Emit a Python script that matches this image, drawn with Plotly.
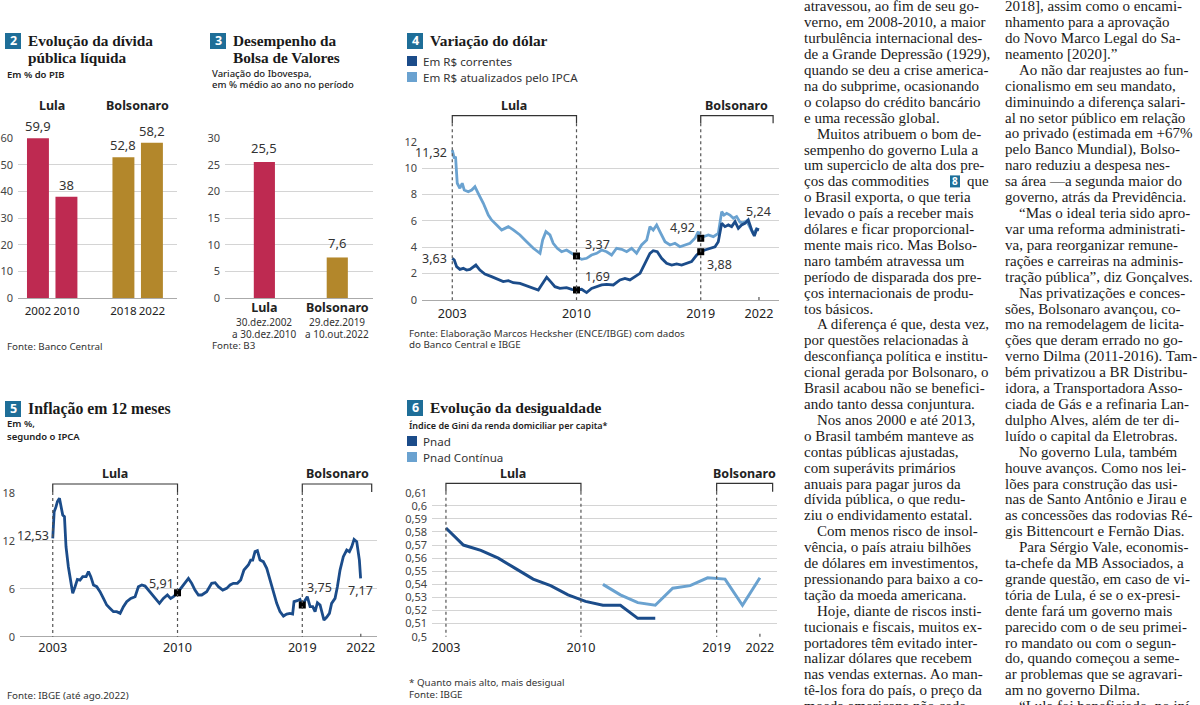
import plotly.graph_objects as go
import numpy as np

W, H = 1200, 705


def PX(x):
    return x / W


def PY(y):
    return 1 - y / H


LULA_COLOR = "#BE2A51"
BOLSO_COLOR = "#B3872B"
DARK_BLUE = "#1B4C8A"
LIGHT_BLUE = "#6AA2D0"
BOX_BLUE = "#1E6E98"
GRID = "#d4d4d4"
SANS = "Noto Sans"
SERIF = "Liberation Serif"
TXT = "#222222"

# ------------------------------------------------------------------ data
debt_years = ["2002", "2010", " ", "2018", "2022"]
debt_values = [59.9, 38.0, None, 52.8, 58.2]
debt_labels = ["59,9", "38", "", "52,8", "58,2"]
debt_govs = ["Lula", "Lula", "", "Bolsonaro", "Bolsonaro"]

bolsa_govs = ["Lula", "Bolsonaro"]
bolsa_values = [25.5, 7.6]
bolsa_labels = ["25,5", "7,6"]
bolsa_start = ["30.dez.2002", "29.dez.2019"]
bolsa_end = ["a 30.dez.2010", "a 10.out.2022"]

dolar_nominal_years = [
    2003.00, 2003.13, 2003.28, 2003.49, 2003.71, 2003.92, 2004.14, 2004.35, 2004.52, 2004.78,
    2005.10, 2005.53, 2005.96, 2006.28, 2006.61, 2006.93, 2007.36, 2007.79, 2008.22, 2008.54,
    2008.75, 2009.08, 2009.33, 2009.61, 2009.93, 2010.36, 2010.69, 2011.00, 2011.33, 2011.65,
    2011.97, 2012.30, 2012.62, 2012.94, 2013.37, 2013.80, 2014.12, 2014.44, 2014.76, 2015.09,
    2015.41, 2015.73, 2015.94, 2016.20, 2016.48, 2016.80, 2017.13, 2017.45, 2017.77, 2018.09,
    2018.41, 2018.74, 2019.00, 2019.27, 2019.60, 2019.92, 2020.13, 2020.35, 2020.56, 2020.78,
    2020.99, 2021.21, 2021.42, 2021.63, 2021.85, 2022.06, 2022.28, 2022.45, 2022.60, 2022.75,
]
dolar_nominal = [
    3.16, 3.03, 2.53, 2.32, 2.40, 2.27, 2.32, 2.48, 2.65, 2.27,
    1.97, 1.77, 1.52, 1.39, 1.47, 1.31, 1.26, 1.06, 0.88, 0.76,
    1.14, 1.72, 1.39, 1.01, 0.88, 0.94, 0.81, 0.76, 0.81, 0.56,
    0.88, 1.01, 1.14, 1.19, 1.14, 1.52, 1.64, 1.52, 1.77, 2.02,
    2.78, 3.54, 3.74, 3.66, 3.16, 2.78, 2.65, 2.73, 2.65, 2.78,
    2.91, 3.41, 3.66, 3.79, 3.92, 4.04, 4.42, 5.81, 5.56, 5.69,
    5.56, 5.94, 5.43, 5.69, 5.81, 6.07, 5.31, 4.85, 5.36, 5.31,
]
dolar_real_years = [
    2003.00, 2003.13, 2003.21, 2003.32, 2003.49, 2003.64, 2003.77, 2004.03, 2004.25, 2004.46,
    2004.67, 2005.00, 2005.32, 2005.53, 2005.86, 2006.18, 2006.39, 2006.61, 2006.93, 2007.36,
    2007.79, 2008.22, 2008.65, 2008.82, 2009.03, 2009.29, 2009.50, 2009.76, 2010.04, 2010.36,
    2010.69, 2011.00, 2011.33, 2011.65, 2011.97, 2012.30, 2012.62, 2012.94, 2013.26, 2013.58,
    2013.91, 2014.23, 2014.55, 2014.87, 2015.19, 2015.52, 2015.73, 2015.94, 2016.16, 2016.37,
    2016.70, 2017.02, 2017.34, 2017.66, 2017.98, 2018.31, 2018.63, 2018.84, 2019.00, 2019.17,
    2019.49, 2019.81, 2020.13, 2020.35, 2020.50, 2020.67, 2020.88, 2021.10, 2021.31, 2021.53,
    2021.74, 2021.96, 2022.17, 2022.39, 2022.60, 2022.75,
]
dolar_real = [
    11.37, 10.74, 10.87, 8.85, 8.47, 8.85, 8.34, 8.21, 8.34, 8.59,
    8.09, 7.33, 6.44, 6.07, 5.69, 5.31, 5.43, 5.56, 5.31, 4.93,
    4.42, 3.92, 3.54, 4.55, 5.18, 4.93, 4.30, 3.92, 3.66, 3.79,
    3.54, 3.34, 3.08, 3.16, 3.41, 3.54, 3.79, 3.66, 3.41, 3.92,
    3.84, 3.66, 3.92, 3.54, 4.17, 4.55, 5.56, 5.31, 5.69, 5.18,
    4.42, 4.17, 4.30, 4.04, 4.17, 4.30, 4.68, 5.18, 4.68, 4.80,
    4.93, 4.80, 5.05, 6.70, 6.44, 6.57, 6.44, 6.19, 6.32, 5.90,
    5.85, 6.00, 5.50, 5.00, 5.40, 5.33,
]
dolar_marked_years = [2011.0, 2019.0]

ipca_years = [
    2003.00, 2003.09, 2003.21, 2003.30, 2003.43, 2003.53, 2003.64, 2003.75, 2003.85, 2004.00,
    2004.15, 2004.28, 2004.43, 2004.58, 2004.75, 2004.92, 2005.14, 2005.29, 2005.44, 2005.61,
    2005.82, 2006.03, 2006.25, 2006.46, 2006.68, 2006.89, 2007.10, 2007.32, 2007.53, 2007.74,
    2008.00, 2008.28, 2008.49, 2008.71, 2008.92, 2009.13, 2009.35, 2009.56, 2009.84, 2010.09,
    2010.35, 2010.56, 2010.74, 2011.00, 2011.27, 2011.55, 2011.70, 2011.91, 2012.12, 2012.34,
    2012.55, 2012.87, 2013.19, 2013.41, 2013.62, 2013.90, 2014.15, 2014.37, 2014.58, 2014.84,
    2015.05, 2015.26, 2015.54, 2015.69, 2015.82, 2015.97, 2016.12, 2016.29, 2016.50, 2016.72,
    2016.93, 2017.15, 2017.36, 2017.57, 2017.79, 2018.00, 2018.21, 2018.38, 2018.47, 2018.68,
    2018.85, 2019.00, 2019.17, 2019.32, 2019.50, 2019.67, 2019.82, 2019.97, 2020.14, 2020.26,
    2020.39, 2020.56, 2020.74, 2020.88, 2021.10, 2021.25, 2021.42, 2021.63, 2021.85, 2022.02,
    2022.17, 2022.32, 2022.49, 2022.66, 2022.74,
]
ipca_values = [
    12.29, 15.60, 16.25, 16.90, 17.30, 16.25, 15.20, 15.00, 11.25, 8.75,
    6.67, 5.42, 6.25, 7.17, 7.08, 7.50, 7.50, 8.13, 7.50, 6.46,
    6.25, 5.63, 4.79, 3.96, 3.54, 3.13, 3.13, 2.92, 3.75, 4.38,
    4.79, 5.00, 6.25, 6.46, 6.33, 5.83, 5.21, 4.79, 4.17, 4.79,
    5.21, 4.79, 5.00, 5.50, 6.25, 6.88, 7.29, 6.67, 5.83, 5.21,
    5.21, 5.63, 6.67, 6.75, 6.25, 5.83, 6.04, 6.46, 6.67, 6.67,
    7.08, 8.33, 8.96, 9.58, 9.58, 10.63, 10.75, 9.58, 9.38, 8.54,
    7.08, 5.63, 4.17, 3.13, 2.58, 2.83, 2.92, 2.83, 4.38, 4.50,
    4.67, 3.96, 4.58, 5.00, 3.75, 3.75, 3.13, 4.25, 3.96, 2.92,
    2.08, 2.42, 2.92, 4.17, 4.79, 6.25, 8.33, 10.00, 10.83, 10.63,
    11.25, 12.17, 11.88, 9.58, 7.29,
]
ipca_marked_years = [2011.0, 2019.0]

gini_pnad_years = list(range(2003, 2016))
gini_pnad = [0.583, 0.570, 0.566, 0.560, 0.552, 0.544, 0.539, 0.532, 0.527, 0.524, 0.524, 0.514, 0.514]
gini_cont_years = list(range(2012, 2022))
gini_cont = [0.540, 0.532, 0.526, 0.524, 0.537, 0.539, 0.545, 0.544, 0.524, 0.545]

col1_lines = [
    "atravessou, ao fim de seu go-",
    "verno, em 2008-2010, a maior",
    "turbulência internacional des-",
    "de a Grande Depressão (1929),",
    "quando se deu a crise america-",
    "na do subprime, ocasionando",
    "o colapso do crédito bancário",
    "e uma recessão global.",
    "\tMuitos atribuem o bom de-",
    "sempenho do governo Lula a",
    "um superciclo de alta dos pre-",
    "ços das commodities|8|que",
    "o Brasil exporta, o que teria",
    "levado o país a receber mais",
    "dólares e ficar proporcional-",
    "mente mais rico. Mas Bolso-",
    "naro também atravessa um",
    "período de disparada dos pre-",
    "ços internacionais de produ-",
    "tos básicos.",
    "\tA diferença é que, desta vez,",
    "por questões relacionadas à",
    "desconfiança política e institu-",
    "cional gerada por Bolsonaro, o",
    "Brasil acabou não se benefici-",
    "ando tanto dessa conjuntura.",
    "\tNos anos 2000 e até 2013,",
    "o Brasil também manteve as",
    "contas públicas ajustadas,",
    "com superávits primários",
    "anuais para pagar juros da",
    "dívida pública, o que redu-",
    "ziu o endividamento estatal.",
    "\tCom menos risco de insol-",
    "vência, o país atraiu bilhões",
    "de dólares em investimentos,",
    "pressionando para baixo a co-",
    "tação da moeda americana.",
    "\tHoje, diante de riscos insti-",
    "tucionais e fiscais, muitos ex-",
    "portadores têm evitado inter-",
    "nalizar dólares que recebem",
    "nas vendas externas. Ao man-",
    "tê-los fora do país, o preço da",
    "moeda americana não cede",
]

col2_lines = [
    "2018], assim como o encami-",
    "nhamento para a aprovação",
    "do Novo Marco Legal do Sa-",
    "neamento [2020].”",
    "\tAo não dar reajustes ao fun-",
    "cionalismo em seu mandato,",
    "diminuindo a diferença salari-",
    "al no setor público em relação",
    "ao privado (estimada em +67%",
    "pelo Banco Mundial), Bolso-",
    "naro reduziu a despesa nes-",
    "sa área —a segunda maior do",
    "governo, atrás da Previdência.",
    "\t“Mas o ideal teria sido apro-",
    "var uma reforma administrati-",
    "va, para reorganizar remune-",
    "rações e carreiras na adminis-",
    "tração pública”, diz Gonçalves.",
    "\tNas privatizações e conces-",
    "sões, Bolsonaro avançou, co-",
    "mo na remodelagem de licita-",
    "ções que deram errado no go-",
    "verno Dilma (2011-2016). Tam-",
    "bém privatizou a BR Distribu-",
    "idora, a Transportadora Asso-",
    "ciada de Gás e a refinaria Lan-",
    "dulpho Alves, além de ter di-",
    "luído o capital da Eletrobras.",
    "\tNo governo Lula, também",
    "houve avanços. Como nos lei-",
    "lões para construção das usi-",
    "nas de Santo Antônio e Jirau e",
    "as concessões das rodovias Ré-",
    "gis Bittencourt e Fernão Dias.",
    "\tPara Sérgio Vale, economis-",
    "ta-chefe da MB Associados, a",
    "grande questão, em caso de vi-",
    "tória de Lula, é se o ex-presi-",
    "dente fará um governo mais",
    "parecido com o de seu primei-",
    "ro mandato ou com o segun-",
    "do, quando começou a seme-",
    "ar problemas que se agravari-",
    "am no governo Dilma.",
    "\t“Lula foi beneficiado, no iní-",
]

gov_color = {"Lula": LULA_COLOR, "Bolsonaro": BOLSO_COLOR, "": "rgba(0,0,0,0)"}

# ------------------------------------------------------------------ figure
fig = go.Figure()
annotations = []
shapes = []

NOTE = 9.8


def ann(x, y, text, size=11, color=TXT, family=SANS, xanchor="left", yanchor="middle",
        xref="paper", yref="paper", weight=None, **kw):
    font = dict(size=size, color=color, family=family)
    if weight:
        font["weight"] = weight
    annotations.append(dict(x=x, y=y, text=text, xref=xref, yref=yref, showarrow=False,
                            xanchor=xanchor, yanchor=yanchor, font=font, **kw))


def title_block(num, bx, by, tx, lines, ys, size=15.6):
    shapes.append(dict(type="rect", xref="paper", yref="paper", x0=PX(bx), x1=PX(bx + 16),
                       y0=PY(by + 16), y1=PY(by), fillcolor=BOX_BLUE, line=dict(width=0)))
    ann(PX(bx + 8), PY(by + 8), "<b>%s</b>" % num, size=12.5, color="white", xanchor="center")
    for line, y in zip(lines, ys):
        ann(PX(tx), PY(y), "<b>%s</b>" % line, size=size, family=SERIF, color="#1a1a1a")


def legend_item(x, y, color, text):
    shapes.append(dict(type="rect", xref="paper", yref="paper", x0=PX(x), x1=PX(x + 10),
                       y0=PY(y + 5), y1=PY(y - 5), fillcolor=color, line=dict(width=0)))
    ann(PX(x + 14), PY(y), text, size=11.6, color="#333")


def terms(xref, spans, y_top, y_bot, y_axis0, label_y, last_tick):
    for name, (a, b) in spans:
        shapes.append(dict(type="path", xref=xref, yref="paper",
                           path="M %f,%f L %f,%f L %f,%f L %f,%f" % (
                               a, PY(y_bot), a, PY(y_top), b, PY(y_top), b, PY(y_bot)),
                           line=dict(color="#333", width=1.2)))
        ends = [a, b] if name == "Lula" else [a]
        for e in ends:
            shapes.append(dict(type="line", xref=xref, yref="paper", x0=e, x1=e,
                               y0=PY(y_bot), y1=PY(y_axis0),
                               line=dict(color="#555", width=1.2, dash="dot")))
        ann((a + b) / 2, PY(label_y), "<b>%s</b>" % name, size=12.5, xref=xref,
            xanchor="center")
    shapes.append(dict(type="line", xref=xref, yref="paper", x0=last_tick, x1=last_tick,
                       y0=PY(y_axis0), y1=PY(y_axis0 - 6),
                       line=dict(color="#555", width=1.2, dash="dot")))


tickfont = dict(family=SANS, size=11, color="#444")
yearfont = dict(family=SANS, size=12.6, color=TXT)


def yaxis_style(**kw):
    d = dict(showgrid=True, gridcolor=GRID, gridwidth=1, zeroline=True, zerolinecolor="#aaa",
             zerolinewidth=1, ticks="", tickfont=tickfont, ticklabelstandoff=4,
             showline=False, fixedrange=True, automargin=False)
    d.update(kw)
    return d


def xaxis_style(**kw):
    d = dict(showgrid=False, zeroline=False, ticks="", tickangle=0, fixedrange=True,
             automargin=False, tickfont=yearfont)
    d.update(kw)
    return d


# ---------------- panel 2: dívida
fig.add_trace(go.Bar(x=debt_years, y=debt_values, width=0.77,
                     marker=dict(color=[gov_color[g] for g in debt_govs], line=dict(width=0)),
                     xaxis="x", yaxis="y", hoverinfo="skip"))
for i, (v, t) in enumerate(zip(debt_values, debt_labels)):
    if v is not None:
        ann(i, v, t, size=13, color="#333", xref="x", yref="y", xanchor="center",
            yanchor="bottom", yshift=1)
ann(0.5, PY(105), "<b>Lula</b>", size=12.5, xref="x", xanchor="center")
ann(3.5, PY(105), "<b>Bolsonaro</b>", size=12.5, xref="x", xanchor="center")
title_block("2", 5, 33, 26, ["Evolução da dívida", "pública líquida"], [41, 57], size=15.3)
ann(PX(5), PY(74), "Em % do PIB", size=9.5, color="#222", weight=600)
ann(PX(5), PY(346), "Fonte: Banco Central", size=NOTE, color="#333")

# ---------------- panel 3: bolsa
fig.add_trace(go.Bar(x=bolsa_govs, y=bolsa_values, width=0.29,
                     marker=dict(color=[gov_color[g] for g in bolsa_govs], line=dict(width=0)),
                     xaxis="x2", yaxis="y2", hoverinfo="skip"))
for i, (v, t) in enumerate(zip(bolsa_values, bolsa_labels)):
    ann(i, v, t, size=13, color="#333", xref="x2", yref="y2", xanchor="center",
        yanchor="bottom", yshift=3)
    ann(i, PY(322.5), bolsa_start[i], size=10, color="#333", xref="x2", xanchor="center")
    ann(i, PY(333.5), bolsa_end[i], size=10, color="#333", xref="x2", xanchor="center")
title_block("3", 210, 33, 231, ["Desempenho da", "Bolsa de Valores"], [41, 57], size=15.3)
ann(PX(210), PY(73), "Variação do Ibovespa,", size=9.5, color="#222", weight=500)
ann(PX(210), PY(85), "em % médio ao ano no período", size=9.5, color="#222", weight=500)
ann(PX(210), PY(345.5), "Fonte: B3", size=NOTE, color="#333")

# ---------------- panel 4: dólar
fig.add_trace(go.Scatter(x=dolar_real_years, y=dolar_real, mode="lines",
                         line=dict(color=LIGHT_BLUE, width=2.8), xaxis="x3", yaxis="y3",
                         hoverinfo="skip"))
fig.add_trace(go.Scatter(x=dolar_nominal_years, y=dolar_nominal, mode="lines",
                         line=dict(color=DARK_BLUE, width=2.8), xaxis="x3", yaxis="y3",
                         hoverinfo="skip"))
mk_y = list(np.interp(dolar_marked_years, dolar_real_years, dolar_real)) + \
    list(np.interp(dolar_marked_years, dolar_nominal_years, dolar_nominal))
fig.add_trace(go.Scatter(x=dolar_marked_years * 2, y=mk_y, mode="markers",
                         marker=dict(symbol="square", size=7, color="black"),
                         xaxis="x3", yaxis="y3", hoverinfo="skip"))
series4 = {"real": (dolar_real_years, dolar_real), "nominal": (dolar_nominal_years, dolar_nominal)}
dolar_point_labels = [
    ("11,32", "real", 2003.0, "right", -3, -2),
    ("3,63", "nominal", 2003.0, "right", -3, 0),
    ("3,37", "real", 2011.0, "left", 6, 11),
    ("1,69", "nominal", 2011.0, "left", 6, 13),
    ("4,92", "real", 2019.0, "right", -4, 11),
    ("3,88", "nominal", 2019.0, "left", 4, -13),
    ("5,24", "nominal", 2022.75, "center", 0, 18),
]
for t, s, xv, xa, xs, ys in dolar_point_labels:
    yv = float(np.interp(xv, *series4[s]))
    ann(xv, yv, t, size=12.5, color="#333", xref="x3", yref="y3", xanchor=xa,
        xshift=xs, yshift=ys)
title_block("4", 407, 33, 428, ["Variação do dólar"], [41], size=15.4)
legend_item(407, 61, DARK_BLUE, "Em R$ correntes")
legend_item(407, 77, LIGHT_BLUE, "Em R$ atualizados pelo IPCA")
terms("x3", [("Lula", (2003.0, 2011.0)), ("Bolsonaro", (2019.0, 2023.66))],
      115.7, 123.3, 300, 105, 2022.75)
ann(PX(407), PY(333), "Fonte: Elaboração Marcos Hecksher (ENCE/IBGE) com dados", size=NOTE, color="#333")
ann(PX(407), PY(345), "do Banco Central e IBGE", size=NOTE, color="#333")

# ---------------- panel 5: inflação
fig.add_trace(go.Scatter(x=ipca_years, y=ipca_values, mode="lines",
                         line=dict(color=DARK_BLUE, width=2.8), xaxis="x4", yaxis="y4",
                         hoverinfo="skip"))
fig.add_trace(go.Scatter(x=ipca_marked_years,
                         y=list(np.interp(ipca_marked_years, ipca_years, ipca_values)),
                         mode="markers", marker=dict(symbol="square", size=7, color="black"),
                         xaxis="x4", yaxis="y4", hoverinfo="skip"))
ipca_point_labels = [
    ("12,53", 2003.0, "right", -2, 3),
    ("5,91", 2011.0, "right", -2, 9),
    ("3,75", 2019.0, "left", 3, 18),
    ("7,17", 2022.74, "center", 0, -12),
]
for t, xv, xa, xs, ys in ipca_point_labels:
    yv = float(np.interp(xv, ipca_years, ipca_values))
    ann(xv, yv, t, size=12.5, color="#333", xref="x4", yref="y4", xanchor=xa,
        xshift=xs, yshift=ys)
title_block("5", 5, 401, 26, ["Inflação em 12 meses"], [409], size=15.8)
ann(PX(5), PY(423), "Em %,", size=9.5, color="#222", weight=600)
ann(PX(5), PY(436), "segundo o IPCA", size=9.5, color="#222", weight=600)
terms("x4", [("Lula", (2003.0, 2011.0)), ("Bolsonaro", (2019.0, 2023.45))],
      484, 492, 636.7, 473, 2022.75)
ann(PX(5), PY(695), "Fonte: IBGE (até ago.2022)", size=NOTE, color="#333")

# ---------------- panel 6: desigualdade
fig.add_trace(go.Scatter(x=gini_cont_years, y=gini_cont, mode="lines",
                         line=dict(color=LIGHT_BLUE, width=3), xaxis="x5", yaxis="y5",
                         hoverinfo="skip"))
fig.add_trace(go.Scatter(x=gini_pnad_years, y=gini_pnad, mode="lines",
                         line=dict(color=DARK_BLUE, width=3), xaxis="x5", yaxis="y5",
                         hoverinfo="skip"))
title_block("6", 407, 400, 428, ["Evolução da desigualdade"], [408], size=15.5)
ann(PX(407), PY(425), "Índice de Gini da renda domiciliar per capita*", size=9,
    color="#222", weight=600)
legend_item(407, 441, DARK_BLUE, "Pnad")
legend_item(407, 457, LIGHT_BLUE, "Pnad Contínua")
terms("x5", [("Lula", (2003.0, 2010.74)), ("Bolsonaro", (2018.52, 2021.73))],
      483.3, 491.7, 636.7, 473, 2021.0)
ann(PX(407), PY(682.5), "* Quanto mais alto, mais desigual", size=NOTE, color="#333")
ann(PX(407), PY(694.5), "Fonte: IBGE", size=NOTE, color="#333")

# ---------------- text columns
LINE0, LSTEP = 6.5, 15.9


def text_column(lines, base_x, indent_x):
    for i, line in enumerate(lines):
        yc = LINE0 + LSTEP * i
        y = PY(yc)
        x = base_x
        if line.startswith("\t"):
            line = line[1:]
            x = indent_x
        if "|" in line:
            a, num, b = line.split("|")
            ann(PX(x), y, a, size=15, family=SERIF, color="#1a1a1a")
            shapes.append(dict(type="rect", xref="paper", yref="paper", x0=PX(950), x1=PX(960),
                               y0=PY(yc + 6), y1=PY(yc - 6), fillcolor=BOX_BLUE,
                               line=dict(width=0)))
            ann(PX(955), y, "<b>%s</b>" % num, size=10, color="white", xanchor="center")
            ann(PX(965), y, b, size=15, family=SERIF, color="#1a1a1a")
        else:
            ann(PX(x), y, line, size=15, family=SERIF, color="#1a1a1a")


text_column(col1_lines, 802, 815)
text_column(col2_lines, 1003, 1017)

# ------------------------------------------------------------------ layout
fig.update_layout(
    width=W, height=H, margin=dict(l=0, r=0, t=0, b=0, autoexpand=False),
    paper_bgcolor="white", plot_bgcolor="white", showlegend=False, hovermode=False,
    separators=",.", font=dict(family=SANS, color=TXT),
    xaxis=xaxis_style(domain=[PX(18), PX(177)], anchor="y", type="category",
                      categoryorder="array", categoryarray=debt_years, range=[-0.70, 4.88],
                      tickfont=dict(family=SANS, size=11.6, color=TXT), ticklabelstandoff=4),
    yaxis=yaxis_style(domain=[PY(298), PY(138)], anchor="x", range=[0, 60], dtick=10),
    xaxis2=xaxis_style(domain=[PX(225), PX(373)], anchor="y2", type="category",
                       categoryorder="array", categoryarray=bolsa_govs, range=[-0.54, 1.49],
                       tickvals=bolsa_govs, ticktext=["<b>%s</b>" % g for g in bolsa_govs],
                       tickfont=dict(family=SANS, size=12.5, color=TXT), ticklabelstandoff=0),
    yaxis2=yaxis_style(domain=[PY(298), PY(138)], anchor="x2", range=[0, 30], dtick=5),
    xaxis3=xaxis_style(domain=[PX(422), PX(779)], anchor="y3", range=[2001.05, 2024.04],
                       tickvals=[2003, 2011, 2019, 2022.75],
                       ticktext=["2003", "2010", "2019", "2022"], ticklabelstandoff=4),
    yaxis3=yaxis_style(domain=[PY(300), PY(141.7)], anchor="x3", range=[0, 12], dtick=2),
    xaxis4=xaxis_style(domain=[PX(20), PX(377)], anchor="y4", range=[2000.90, 2023.79],
                       tickvals=[2003, 2011, 2019, 2022.75],
                       ticktext=["2003", "2010", "2019", "2022"], ticklabelstandoff=2),
    yaxis4=yaxis_style(domain=[PY(636.7), PY(492.7)], anchor="x4", range=[0, 18],
                       tickvals=[0, 6, 12, 18]),
    xaxis5=xaxis_style(domain=[PX(432), PX(777)], anchor="y5", range=[2002.20, 2021.98],
                       tickvals=[2003, 2010.74, 2018.52, 2021.0],
                       ticktext=["2003", "2010", "2019", "2022"], ticklabelstandoff=2),
    yaxis5=yaxis_style(domain=[PY(636.7), PY(492.7)], anchor="x5", range=[0.5, 0.61],
                       tick0=0.5, dtick=0.01, zeroline=False),
    annotations=annotations, shapes=shapes,
)

fig.write_html("out.html", config={"displayModeBar": False},
               post_script="document.body.style.margin='0';document.body.style.overflow='hidden';")
